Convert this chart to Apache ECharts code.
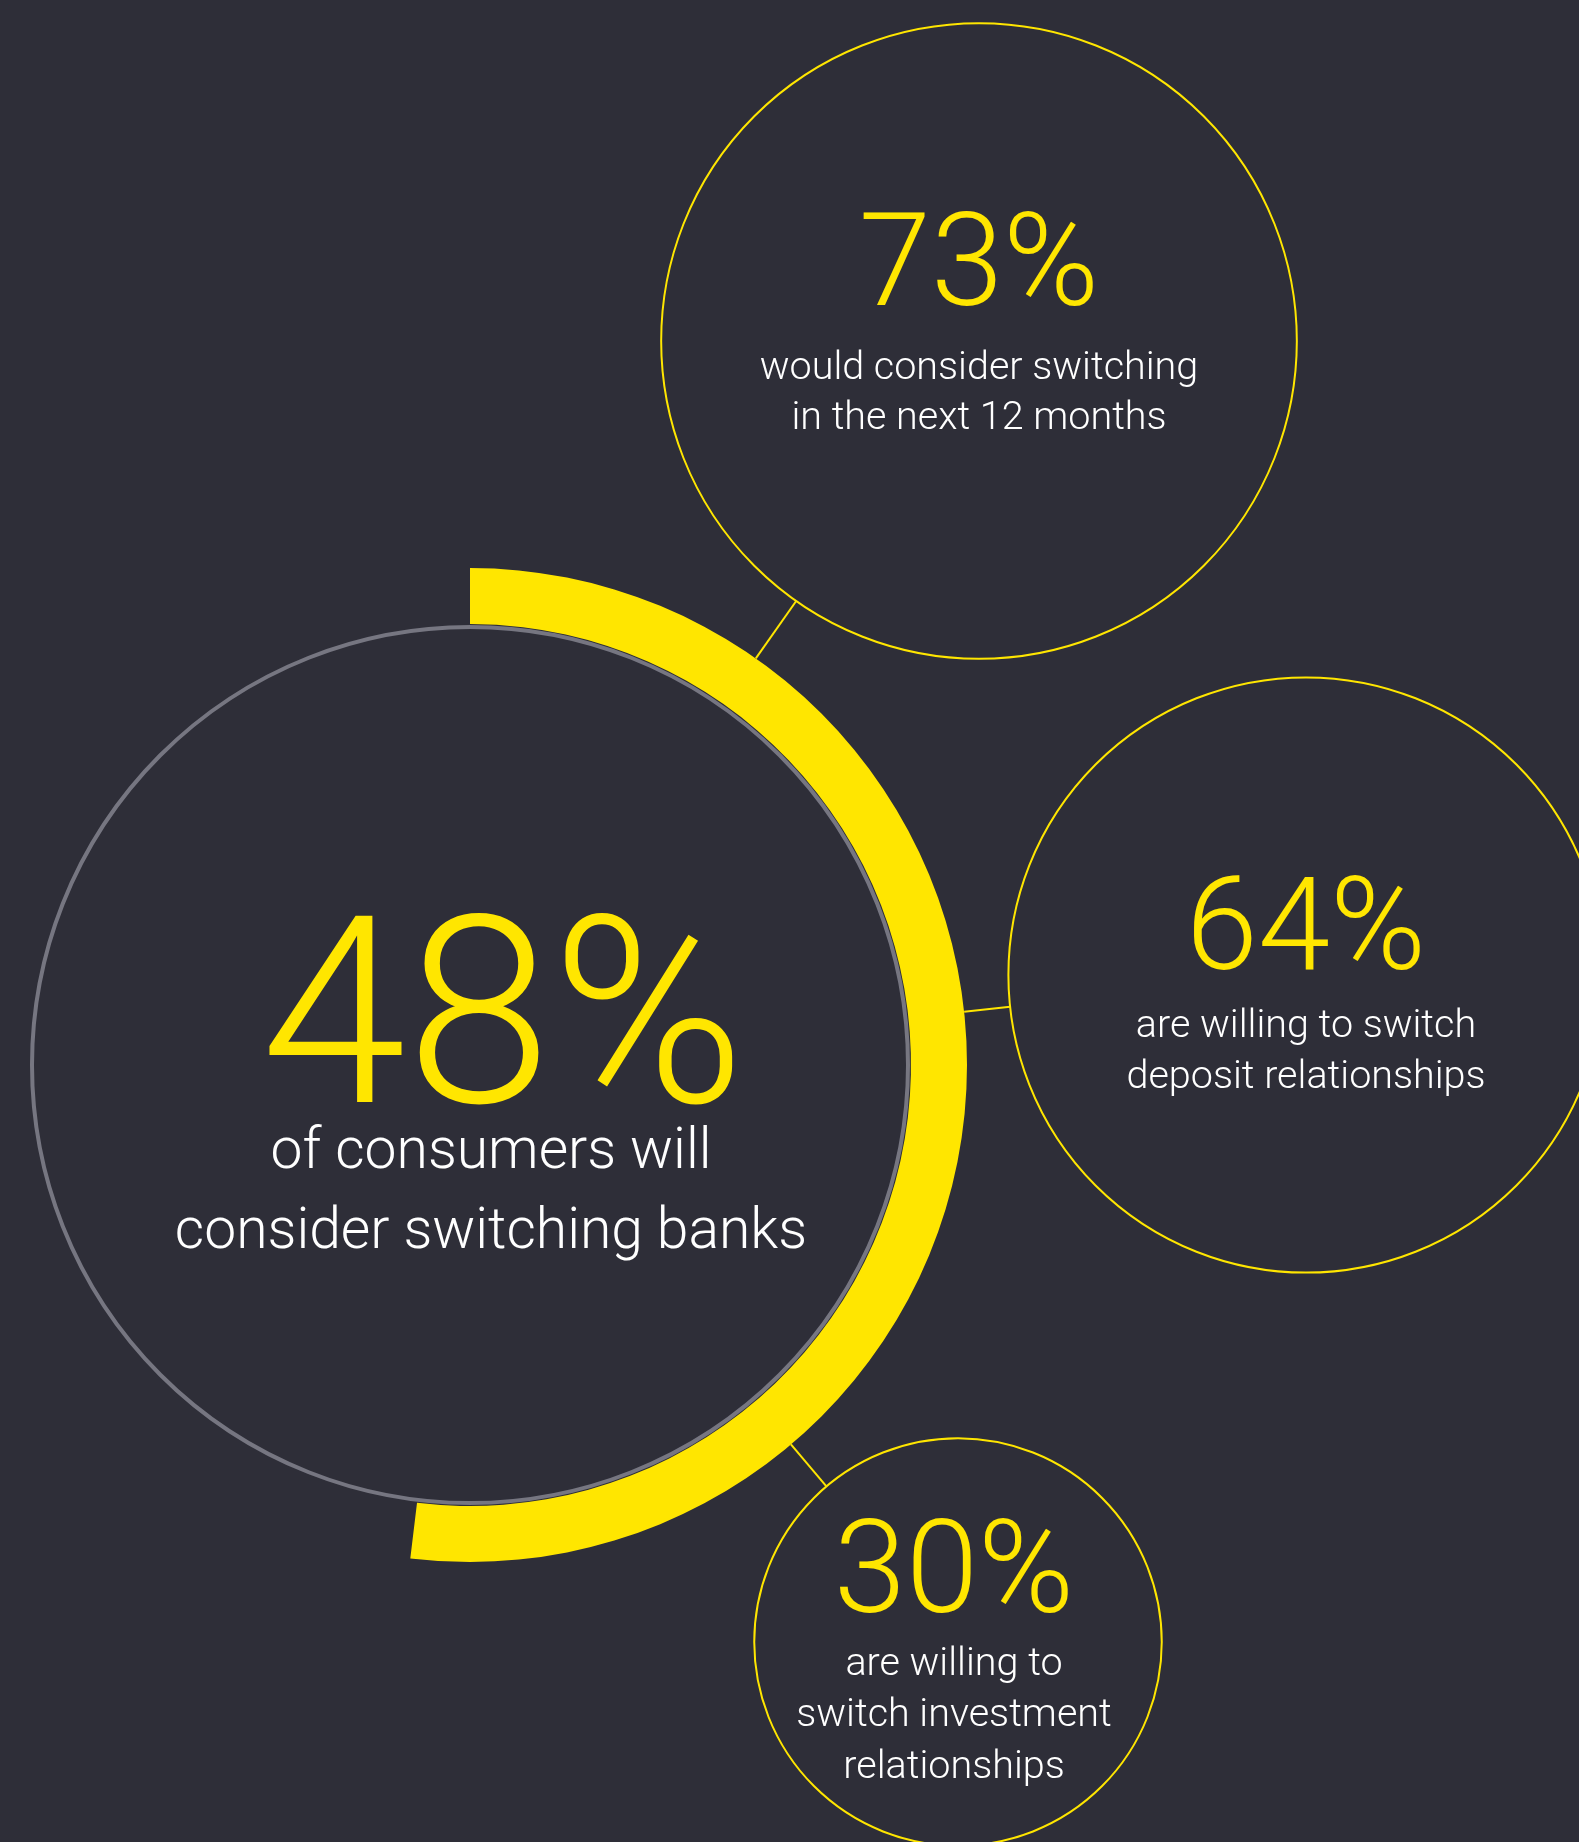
<!DOCTYPE html>
<html>
<head>
<meta charset="utf-8">
<script src="https://cdn.jsdelivr.net/npm/echarts@6/dist/echarts.min.js"></script>
<style>
  html, body { margin: 0; padding: 0; background: #2e2e38; }
  #chart { width: 1579px; height: 1842px; }
</style>
</head>
<body>
<div id="chart"></div>
<script>
// ---------- data ----------
const headlineValue = 48;
const headlineLines = ['of consumers will', 'consider switching banks'];
const bubbleValues = [73, 64, 30];
const bubbleLabels = [
  ['would consider switching', 'in the next 12 months'],
  ['are willing to switch', 'deposit relationships'],
  ['are willing to', 'switch investment', 'relationships']
];

// ---------- layout (positions / sizes / styles) ----------
const W = 1579, H = 1842;
const BG = '#2e2e38', YELLOW = '#ffe600', GREY = '#767681', WHITE = '#ffffff';
const FONT = 'Roboto, "Open Sans", sans-serif';
const ring = { cx: 470, cy: 1065, r: 497, width: 56, greyR: 438, spanDeg: 186.9 };
const bubbleCenters = [[979, 341], [1306, 975], [958, 1642]];
const bubbleAreaScale = 37.2; // radius = scale * sqrt(value)
const bubbleText = [
  { dx: 0, numDy: -38, descDy: 37, lh: 50 },
  { dx: 0, numDy: -8, descDy: 61, lh: 51 },
  { dx: -4, numDy: -32, descDy: 32, lh: 51.5 }
];
const NUM_SIZE = 130, DESC_SIZE = 39.5;
const HEAD_SIZE = 262, HEAD_DESC_SIZE = 57;
const MID = 0.235; // baseline offset of canvas 'middle' in em

const chart = echarts.init(document.getElementById('chart'), null, { renderer: 'canvas' });

const radiusOf = v => bubbleAreaScale * Math.sqrt(v);

const graphics = [];
// grey circle of the headline
graphics.push({
  type: 'circle', z: 1,
  shape: { cx: ring.cx, cy: ring.cy, r: ring.greyR },
  style: { fill: 'none', stroke: GREY, lineWidth: 4 }
});
// connectors
bubbleValues.forEach((v, i) => {
  const [bx, by] = bubbleCenters[i];
  const dx = bx - ring.cx, dy = by - ring.cy;
  const d = Math.sqrt(dx * dx + dy * dy);
  const ux = dx / d, uy = dy / d;
  const rb = radiusOf(v);
  graphics.push({
    type: 'line', z: 1,
    shape: {
      x1: ring.cx + ux * ring.r, y1: ring.cy + uy * ring.r,
      x2: bx - ux * rb, y2: by - uy * rb
    },
    style: { stroke: YELLOW, lineWidth: 2 }
  });
});
function addText(text, x, baseline, size, color, weight) {
  graphics.push({
    type: 'text', z: 10,
    style: {
      text: text, x: x, y: baseline - MID * size,
      align: 'center', verticalAlign: 'middle',
      fill: color, font: weight + ' ' + size + 'px ' + FONT
    }
  });
}
// headline texts
addText(headlineValue + '%', 503, 1098, HEAD_SIZE, YELLOW, 300);
headlineLines.forEach((t, j) => addText(t, 491, 1167 + j * 80, HEAD_DESC_SIZE, WHITE, 300));
// bubble texts
bubbleValues.forEach((v, i) => {
  const [bx, by] = bubbleCenters[i];
  const t = bubbleText[i];
  addText(v + '%', bx + t.dx, by + t.numDy, NUM_SIZE, YELLOW, 300);
  bubbleLabels[i].forEach((line, j) => addText(line, bx + t.dx, by + t.descDy + j * t.lh, DESC_SIZE, WHITE, 300));
});

chart.setOption({
  backgroundColor: BG,
  animation: false,
  grid: { left: 0, right: 0, top: 0, bottom: 0 },
  xAxis: { type: 'value', min: 0, max: W, show: false },
  yAxis: { type: 'value', min: 0, max: H, inverse: true, show: false },
  series: [
    {
      type: 'gauge',
      center: [ring.cx, ring.cy],
      radius: ring.r,
      startAngle: 90,
      endAngle: 90 - ring.spanDeg,
      min: 0,
      max: headlineValue,
      progress: { show: true, width: ring.width, roundCap: false, itemStyle: { color: YELLOW } },
      axisLine: { show: false, lineStyle: { width: ring.width } },
      pointer: { show: false },
      axisTick: { show: false },
      splitLine: { show: false },
      axisLabel: { show: false },
      anchor: { show: false },
      title: { show: false },
      detail: { show: false },
      data: [{ value: headlineValue }]
    },
    {
      type: 'scatter',
      clip: false,
      symbol: 'circle',
      symbolSize: d => 2 * radiusOf(d[2]),
      itemStyle: { color: 'rgba(0,0,0,0)', borderColor: YELLOW, borderWidth: 2, opacity: 1 },
      data: bubbleValues.map((v, i) => [bubbleCenters[i][0], bubbleCenters[i][1], v]),
      z: 3
    }
  ],
  graphic: graphics
});
</script>
</body>
</html>
